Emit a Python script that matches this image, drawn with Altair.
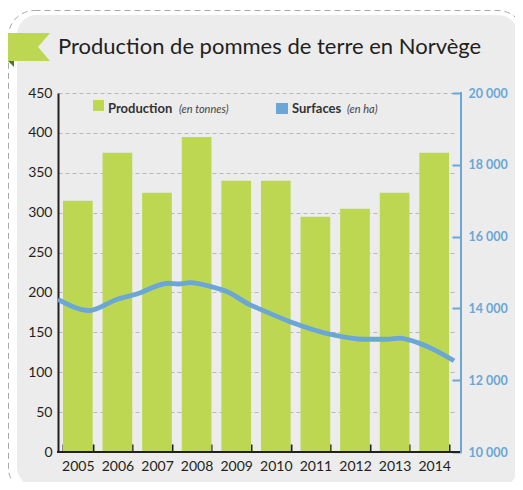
import altair as alt
import pandas as pd

# ---- data ----
years = ["2005", "2006", "2007", "2008", "2009", "2010", "2011", "2012", "2013", "2014"]
production = [315, 375, 325, 395, 340, 340, 295, 305, 325, 375]

surf_pos = [2004.5, 2005.29, 2005.98, 2006.49, 2007.29, 2007.54, 2007.83, 2008.42, 2008.76,
            2009.35, 2009.60, 2010.36, 2011.45, 2012.21, 2012.80, 2013.14, 2013.31, 2013.98, 2014.5]
surfaces = [14250, 13940, 14250, 14400, 14700, 14680, 14720, 14590, 14470,
            14100, 13980, 13630, 13260, 13140, 13140, 13170, 13140, 12860, 12540]

left_ticks = list(range(0, 451, 50))
right_ticks = [10000, 12000, 14000, 16000, 18000, 20000]

title_text = "Production de pommes de terre en Norvège"

GREEN = "#bdd752"
BLUE = "#6aa6d6"
DARK = "#231f20"
BG = "#ececec"
FONT = "Lato"

W, H = 396, 359

bars_df = pd.DataFrame({"year": years, "production": production})
line_df = pd.DataFrame({"pos": surf_pos, "surface": surfaces})
one = pd.DataFrame({"k": [0]})

bars = alt.Chart(bars_df).mark_bar(color=GREEN).encode(
    x=alt.X("year:O", sort=years,
            scale=alt.Scale(paddingInner=0.25, paddingOuter=0.125),
            axis=alt.Axis(title=None, labelAngle=0, offset=-8, tickSize=8, tickWidth=2,
                          tickColor=DARK, tickBand="extent", domain=False, grid=False,
                          labelPadding=7, labelFont=FONT, labelFontSize=14, labelColor=DARK)),
    y=alt.Y("production:Q", scale=alt.Scale(domain=[0, 450], nice=False),
            axis=alt.Axis(title=None, values=left_ticks, ticks=False, domainColor=DARK,
                          domainWidth=2, grid=True, gridDash=[4, 3], gridColor="#b8b8b8",
                          gridWidth=1, labelPadding=6, labelFont=FONT, labelFontSize=14,
                          labelColor=DARK)),
)

line = alt.Chart(line_df).mark_line(color=BLUE, strokeWidth=4.8, interpolate="monotone").encode(
    x=alt.X("pos:Q", scale=alt.Scale(domain=[2004.5, 2014.5], nice=False, zero=False), axis=None),
    y=alt.Y("surface:Q", scale=alt.Scale(domain=[10000, 20000], nice=False, zero=False),
            axis=alt.Axis(orient="right", title=None, values=right_ticks, offset=-2, tickSize=9,
                          tickWidth=2, tickColor=BLUE, domain=False, grid=False,
                          labelColor=BLUE, labelFont=FONT, labelFontWeight="bold",
                          labelFontSize=12.5, labelPadding=7,
                          labelExpr="replace(format(datum.value, ','), ',', ' ')")),
)

# axis lines
bottom_line = alt.Chart(one).mark_rule(color=DARK, strokeWidth=2).encode(
    x=alt.value(-1), x2=alt.value(403), y=alt.value(H))
right_line = alt.Chart(one).mark_rule(color=BLUE, strokeWidth=2).encode(
    x=alt.value(403), y=alt.value(-1), y2=alt.value(H + 1))

# panel corners mask and dashed outline
mask = alt.Chart(one).mark_rect(filled=False, stroke="white", strokeWidth=30, cornerRadius=35).encode(
    x=alt.value(-56), x2=alt.value(475), y=alt.value(-93), y2=alt.value(409))
outline = alt.Chart(one).mark_rect(filled=False, stroke="#a8a8a8", strokeWidth=1,
                                   strokeDash=[6, 4], cornerRadius=26).encode(
    x=alt.value(-49.5), x2=alt.value(466), y=alt.value(-82.5), y2=alt.value(401))

# title ribbon
flag = alt.Chart(one).mark_point(shape="M -1 -0.667 L 1 -0.667 L 0.43 0 L 1 0.667 L -1 0.667 Z",
                                 filled=True, size=1764, color=GREEN, opacity=1).encode(
    x=alt.value(-29), y=alt.value(-46))
fold = alt.Chart(one).mark_point(shape="M -1 -1 L 1 -1 L 1 1 Z", filled=True, size=36,
                                 color="#4d7a2a", opacity=1).encode(
    x=alt.value(-47), y=alt.value(-29))
title = alt.Chart(one).mark_text(text=title_text, align="left", baseline="alphabetic",
                                 font=FONT, fontSize=22, color=DARK).encode(
    x=alt.value(0), y=alt.value(-38.7))

# legend
leg_sq1 = alt.Chart(one).mark_rect(color=GREEN).encode(
    x=alt.value(35), x2=alt.value(46), y=alt.value(7), y2=alt.value(18))
leg_sq2 = alt.Chart(one).mark_rect(color=BLUE).encode(
    x=alt.value(218), x2=alt.value(230), y=alt.value(10), y2=alt.value(21))
leg_t1 = alt.Chart(one).mark_text(text="Production", align="left", baseline="alphabetic",
                                  font=FONT, fontSize=13, fontWeight="bold", color="#333333").encode(
    x=alt.value(50), y=alt.value(19.7))
leg_t1b = alt.Chart(one).mark_text(text="(en tonnes)", align="left", baseline="alphabetic",
                                   font=FONT, fontSize=11, fontStyle="italic", color="#444444").encode(
    x=alt.value(121), y=alt.value(19.7))
leg_t2 = alt.Chart(one).mark_text(text="Surfaces", align="left", baseline="alphabetic",
                                  font=FONT, fontSize=13, fontWeight="bold", color="#333333").encode(
    x=alt.value(234), y=alt.value(19.7))
leg_t2b = alt.Chart(one).mark_text(text="(en ha)", align="left", baseline="alphabetic",
                                   font=FONT, fontSize=11, fontStyle="italic", color="#444444").encode(
    x=alt.value(289), y=alt.value(19.7))

chart = alt.layer(
    bars, line, bottom_line, right_line, mask, outline, flag, fold, title,
    leg_sq1, leg_sq2, leg_t1, leg_t1b, leg_t2, leg_t2b
).resolve_scale(x="independent", y="independent").properties(
    width=W, height=H,
    padding={"left": 50, "top": 85, "right": 61, "bottom": 30},
    autosize="none",
    background=BG,
).configure_view(stroke=None)

chart.save("out.html", embed_options={"renderer": "svg", "actions": False})
